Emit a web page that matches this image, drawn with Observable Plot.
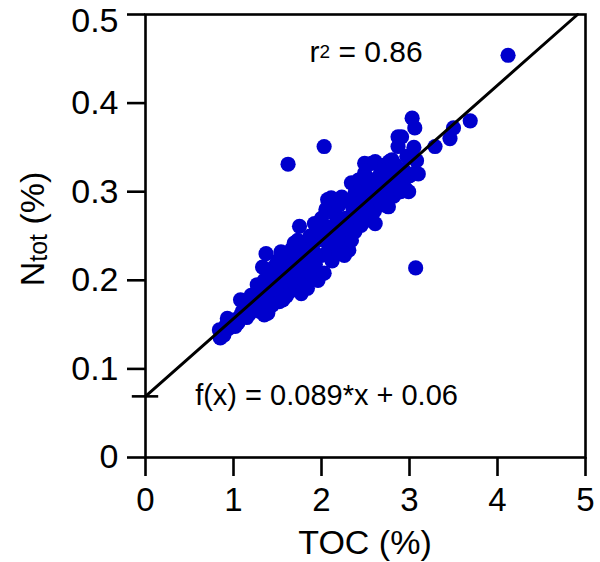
<!DOCTYPE html>
<html><head><meta charset="utf-8">
<script src="https://cdn.jsdelivr.net/npm/d3@7"></script>
<script src="https://cdn.jsdelivr.net/npm/@observablehq/plot@0.6"></script>
<style>body{margin:0;background:#fff} svg{display:block}</style>
</head><body><div id="chart"></div>
<script>
// TOC (%) and Ntot (%) of each sample
const tocX = [
0.85,0.84,0.89,0.93,0.95,0.98,1.00,1.02,0.92,1.05,
1.08,1.08,1.10,1.12,1.15,1.15,1.18,1.20,1.20,1.22,
1.25,1.27,1.28,1.30,1.31,1.32,1.33,1.35,1.35,1.37,
1.38,1.39,1.40,1.40,1.42,1.44,1.45,1.46,1.48,1.50,
1.50,1.52,1.54,1.56,1.55,1.57,1.58,1.60,1.60,1.62,
1.63,1.65,1.66,1.68,1.69,1.70,1.72,1.73,1.75,1.75,
1.77,1.78,1.80,1.80,1.82,1.84,1.85,1.87,1.88,1.90,
1.92,1.93,1.95,1.96,1.98,2.00,2.00,2.03,2.04,2.05,
2.07,2.08,2.10,2.11,2.12,2.14,2.15,2.17,2.18,2.20,
2.20,2.23,2.24,2.26,2.27,2.29,2.30,2.31,2.32,2.34,
2.34,2.36,2.38,2.38,2.40,2.42,2.43,2.45,2.46,2.48,
2.49,2.49,2.50,2.52,2.53,2.55,2.57,2.58,2.60,2.61,
2.61,2.63,2.65,2.67,2.68,2.70,2.72,2.73,2.75,2.76,
2.77,2.80,2.80,2.80,2.82,2.84,2.87,2.87,2.88,2.90,
2.91,2.93,2.95,2.97,2.99,3.00,3.03,3.06,3.06,3.08,
3.10,3.05,3.29,3.46,3.50,3.69,4.12,1.62,2.03,3.07
];
const ntotY = [
0.135,0.144,0.138,0.157,0.146,0.150,0.155,0.148,0.150,0.152,
0.160,0.178,0.165,0.176,0.158,0.170,0.162,0.175,0.183,0.168,
0.172,0.195,0.180,0.165,0.170,0.188,0.215,0.161,0.200,0.230,
0.178,0.163,0.192,0.208,0.185,0.172,0.200,0.215,0.180,0.195,
0.222,0.176,0.232,0.178,0.205,0.190,0.212,0.182,0.225,0.198,
0.215,0.188,0.235,0.205,0.242,0.195,0.222,0.245,0.261,0.210,
0.185,0.230,0.200,0.215,0.240,0.191,0.225,0.250,0.208,0.235,
0.264,0.218,0.245,0.200,0.255,0.228,0.270,0.208,0.245,0.280,
0.291,0.235,0.260,0.293,0.222,0.250,0.275,0.240,0.265,0.285,
0.230,0.294,0.255,0.228,0.270,0.245,0.290,0.234,0.262,0.310,
0.245,0.280,0.255,0.298,0.270,0.313,0.285,0.262,0.300,0.275,
0.321,0.332,0.290,0.268,0.310,0.285,0.332,0.300,0.278,0.264,
0.334,0.315,0.295,0.320,0.285,0.305,0.330,0.290,0.315,0.283,
0.334,0.336,0.305,0.322,0.295,0.330,0.351,0.362,0.315,0.300,
0.362,0.325,0.304,0.340,0.300,0.318,0.383,0.372,0.321,0.335,
0.320,0.350,0.351,0.360,0.372,0.380,0.454,0.331,0.351,0.214
];
// drawn fit line (as it appears in the figure)
const fitX = [0, 4.91];
const fitY = [0.069, 0.5];
const interceptY = [0.069];
const xTicks = [0, 1, 2, 3, 4, 5];
const xTickLabels = ["0", "1", "2", "3", "4", "5"];
const yTicks = [0, 0.1, 0.2, 0.3, 0.4, 0.5];
const yTickLabels = ["0", "0.1", "0.2", "0.3", "0.4", "0.5"];
const xLabel = "TOC (%)";
const eqText = "f(x) = 0.089*x + 0.06";
const eqPos = [0.57, 0.059];
const r2Pos = [1.87, 0.446];

const points = tocX.map((x, i) => ({x, y: ntotY[i]}));
const fit = fitX.map((x, i) => ({x, y: fitY[i]}));
const FONT = "'Liberation Sans', Arial, Helvetica, sans-serif";

const chart = Plot.plot({
  width: 600, height: 562,
  marginLeft: 145, marginRight: 15, marginTop: 14, marginBottom: 105,
  style: {fontFamily: FONT, color: "#000", background: "#fff", overflow: "visible"},
  x: {domain: [0, 5]},
  y: {domain: [0, 0.5]},
  marks: [
    Plot.dot(points, {x: "x", y: "y", r: 7.6, fill: "#0000cd", stroke: "none"}),
    Plot.line(fit, {x: "x", y: "y", stroke: "#000", strokeWidth: 3}),
    Plot.ruleY(interceptY, {x1: -0.15, x2: 0.15, stroke: "#000", strokeWidth: 2.6}),
    Plot.frame({stroke: "#000", strokeWidth: 2.6}),
    Plot.axisX({ticks: xTicks, tickFormat: d => xTickLabels[xTicks.indexOf(d)], tickSize: 19, tickPadding: 11, fontSize: 33, strokeWidth: 2.6, label: null}),
    Plot.axisY({ticks: yTicks, tickFormat: d => yTickLabels[yTicks.indexOf(d)], tickSize: 18, tickPadding: 9, fontSize: 34, strokeWidth: 2.6, label: null})
  ]
});
document.getElementById("chart").appendChild(chart);

const svg = d3.select(chart);
const sx = chart.scale("x"), sy = chart.scale("y");

// the top y tick label sits a little lower, as in the figure
svg.selectAll("text").filter(function() { return this.textContent === "0.5"; })
  .attr("y", "0.52em");

const g = svg.append("g").attr("font-family", FONT).attr("fill", "#000").attr("text-anchor", "start");

// x axis label
g.append("text").attr("x", (sx.apply(0) + sx.apply(5)) / 2).attr("y", 554)
  .attr("text-anchor", "middle").attr("font-size", 34).text(xLabel);

// y axis label with subscript
const yl = g.append("text").attr("transform", "translate(44,229) rotate(-90)")
  .attr("text-anchor", "middle").attr("font-size", 34);
yl.append("tspan").text("N");
yl.append("tspan").attr("font-size", 25).attr("dy", 3).text("tot");
yl.append("tspan").attr("dy", -3).text(" (%)");

// equation
g.append("text").attr("x", sx.apply(eqPos[0])).attr("y", sy.apply(eqPos[1]))
  .attr("text-anchor", "start").attr("font-size", 29).text(eqText);

// r squared
const rt = g.append("text").attr("x", sx.apply(r2Pos[0])).attr("y", sy.apply(r2Pos[1]))
  .attr("text-anchor", "start").attr("font-size", 30);
rt.append("tspan").text("r");
rt.append("tspan").attr("font-size", 19).attr("dy", -4).text("2");
rt.append("tspan").attr("dy", 4).text(" = 0.86");
</script>
</body></html>
